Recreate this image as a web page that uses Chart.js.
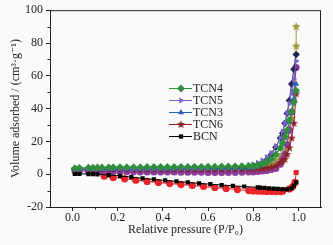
<!DOCTYPE html>
<html>
<head>
<meta charset="utf-8">
<script src="https://cdn.jsdelivr.net/npm/chart.js@4/dist/chart.umd.min.js"></script>
<style>
  html, body { margin: 0; padding: 0; background: #fafafa; }
  #wrap { width: 333px; height: 245px; }
</style>
</head>
<body>
<div id="wrap"><canvas id="isoChart" width="333" height="245"></canvas></div>
<script>
// relative pressure P/P0 for the TCN curves
const pTcn = [0.01, 0.03, 0.07, 0.09, 0.11, 0.13, 0.16, 0.18, 0.21, 0.24, 0.27, 0.30, 0.33, 0.36,
  0.39, 0.42, 0.45, 0.48, 0.51, 0.54, 0.57, 0.60, 0.63, 0.66, 0.69, 0.72, 0.75, 0.78, 0.80, 0.82,
  0.84, 0.86, 0.88, 0.90, 0.92, 0.93, 0.94, 0.95, 0.96, 0.97, 0.98, 0.99];
const tcn4 = [3.6, 3.8, 4.0, 4.0, 4.1, 4.1, 4.2, 4.2, 4.3, 4.3, 4.3, 4.3, 4.4, 4.4, 4.4, 4.4, 4.4,
  4.5, 4.5, 4.5, 4.5, 4.6, 4.6, 4.7, 4.7, 4.8, 4.9, 5.0, 5.0, 5.5, 6.3, 7.5, 9.5, 12, 16, 19, 23,
  27, 33, 38, 44, 51];
const tcn5 = [3.0, 3.2, 3.3, 3.3, 3.4, 3.4, 3.4, 3.5, 3.5, 3.5, 3.5, 3.6, 3.6, 3.6, 3.6, 3.7, 3.7,
  3.7, 3.8, 3.8, 3.9, 4.0, 4.1, 4.2, 4.4, 4.6, 5.0, 5.4, 6.0, 7.0, 8.5, 10.5, 13, 17, 22, 26, 31,
  37, 43, 50, 58, 69];
const tcn3 = [2.8, 3.0, 3.0, 3.1, 3.1, 3.1, 3.2, 3.2, 3.2, 3.2, 3.2, 3.2, 3.3, 3.3, 3.3, 3.3, 3.3,
  3.3, 3.4, 3.4, 3.4, 3.4, 3.5, 3.5, 3.5, 3.6, 3.7, 3.8, 4.0, 4.5, 5.5, 7.0, 9.0, 12.5, 16, 19, 22,
  26, 32, 38, 46, 55];
const tcn6 = [3.2, 3.3, 3.3, 3.3, 3.3, 3.3, 3.3, 3.3, 3.3, 3.3, 3.3, 3.2, 3.2, 3.2, 3.2, 3.2, 3.2,
  3.2, 3.2, 3.2, 3.1, 3.1, 3.1, 3.1, 3.1, 3.1, 3.1, 3.2, 3.2, 3.3, 3.5, 3.8, 4.3, 5.5, 7.0, 8.0,
  9.0, 12, 16, 22, 31, 49];
// unlabeled desorption branches
const tcnNavy = [3.3, 3.4, 3.4, 3.4, 3.4, 3.4, 3.4, 3.4, 3.4, 3.4, 3.4, 3.4, 3.4, 3.4, 3.4, 3.4,
  3.4, 3.4, 3.4, 3.4, 3.4, 3.5, 3.5, 3.5, 3.6, 3.7, 3.8, 4.0, 4.3, 5.0, 6.5, 8.5, 12, 16.5, 22, 25,
  31, 37, 45, 55, 64, 73];
const tcnMagenta = [2.2, 2.0, 1.8, 1.8, 1.7, 1.7, 1.6, 1.6, 1.5, 1.5, 1.5, 1.4, 1.4, 1.4, 1.3, 1.3,
  1.3, 1.2, 1.2, 1.2, 1.2, 1.1, 1.1, 1.1, 1.1, 1.1, 1.2, 1.3, 1.4, 1.6, 1.9, 2.3, 2.8, 3.5, 6.0,
  9.0, 12, 18, 27, 38, 50, 65];
const pOlive = [0.01, 0.03, 0.07, 0.09, 0.11, 0.13, 0.16, 0.18, 0.21, 0.24, 0.27, 0.30, 0.33, 0.36,
  0.39, 0.42, 0.45, 0.48, 0.51, 0.54, 0.57, 0.60, 0.63, 0.66, 0.69, 0.72, 0.75, 0.78, 0.80, 0.82,
  0.84, 0.86, 0.88, 0.90, 0.92, 0.93, 0.94, 0.95, 0.96, 0.97, 0.98, 0.99, 0.99];
const tcnOlive = [2.4, 2.3, 2.2, 2.2, 2.2, 2.1, 2.1, 2.1, 2.1, 2.0, 2.0, 2.0, 2.0, 2.0, 2.0, 2.0,
  2.0, 2.0, 2.0, 2.0, 2.0, 2.0, 2.0, 2.0, 2.1, 2.1, 2.2, 2.4, 2.6, 3.0, 3.8, 5.0, 6.5, 8.5, 10.5,
  12, 14, 19, 26, 34, 44, 78, 90];

// BCN: adsorption (black) and desorption (red)
const pBcn = [0.01, 0.03, 0.07, 0.09, 0.11, 0.16, 0.21, 0.26, 0.31, 0.36, 0.41, 0.46, 0.51, 0.56,
  0.61, 0.66, 0.71, 0.76, 0.82, 0.83, 0.85, 0.87, 0.89, 0.91, 0.93, 0.95, 0.97, 0.98, 0.99];
const bcn = [0.2, 0.2, 0.1, 0.0, -0.1, -0.5, -1.0, -1.8, -2.5, -3.2, -3.8, -4.4, -5.0, -5.6, -6.1,
  -6.6, -7.1, -7.5, -8.0, -8.2, -8.4, -8.6, -8.8, -9.0, -9.1, -9.2, -8.6, -7.0, -5.0];
const pBcnDes = [0.14, 0.18, 0.23, 0.28, 0.33, 0.38, 0.43, 0.48, 0.53, 0.58, 0.63, 0.68, 0.73,
  0.78, 0.80, 0.82, 0.84, 0.86, 0.88, 0.90, 0.92, 0.93, 0.96, 0.975, 0.985, 0.99];
const bcnDes = [-1.2, -2.0, -2.8, -3.7, -4.4, -5.1, -5.7, -6.3, -6.9, -7.5, -8.1, -8.7, -9.4, -10.0,
  -10.2, -10.3, -10.4, -10.5, -10.5, -10.6, -10.6, -10.4, -9.0, -7.5, -5.0, 1.0];

const xTicks = [0.0, 0.2, 0.4, 0.6, 0.8, 1.0];
const yTicks = [-20, 0, 20, 40, 60, 80, 100];

const serif = "'Liberation Serif', 'DejaVu Serif', serif";

// filled five point star used as marker
function makeStar(color, r) {
  const c = document.createElement('canvas');
  const s = Math.ceil(r * 2 + 2);
  c.width = s; c.height = s;
  const g = c.getContext('2d');
  g.fillStyle = color;
  g.beginPath();
  for (let i = 0; i < 10; i++) {
    const rr = i % 2 === 0 ? r : r * 0.45;
    const a = -Math.PI / 2 + i * Math.PI / 5;
    g.lineTo(s / 2 + rr * Math.cos(a), s / 2 + rr * Math.sin(a));
  }
  g.closePath();
  g.fill();
  return c;
}

const zip = (xs, ys) => ys.map((y, i) => ({ x: xs[i], y }));

function series(label, xs, ys, color, style, extra) {
  return Object.assign({
    label,
    data: zip(xs, ys),
    borderColor: color,
    backgroundColor: color,
    borderWidth: 1,
    pointStyle: style,
    pointRadius: 3.5,
    pointBorderWidth: 0,
    pointHoverRadius: 3.5,
    showLine: true,
    tension: 0,
  }, extra || {});
}

const datasets = [
  series('TCN4', pTcn, tcn4, '#2f8f3a', 'rectRot', { pointRadius: 3.9 }),
  series('TCN5', pTcn, tcn5, '#7b62c8', 'triangle', { pointRotation: 90 }),
  series('TCN3', pTcn, tcn3, '#2e62b8', 'triangle'),
  series('TCN6', pTcn, tcn6, '#8b2323', makeStar('#8b2323', 4.3)),
  series('BCN', pBcn, bcn, '#000000', 'rect', { pointRadius: 3 }),
  series('', pTcn, tcnNavy, '#1c2552', 'rectRot', { pointRadius: 3.7 }),
  series('', pTcn, tcnMagenta, '#8c3c9c', 'circle'),
  series('', pOlive, tcnOlive, '#9c9a3c', makeStar('#9c9a3c', 4.5)),
  series('', pBcnDes, bcnDes, '#e8262a', 'circle', {
    pointRadius: 3.6,
    pointStyle: pBcnDes.map((v, i) => (i === pBcnDes.length - 1 ? 'rect' : 'circle')),
  }),
];

const background = {
  id: 'background',
  beforeDraw(chart) {
    const { ctx } = chart;
    ctx.save();
    ctx.fillStyle = '#fafafa';
    ctx.fillRect(0, 0, chart.width, chart.height);
    ctx.restore();
  },
};

// frame, minor ticks and the hand placed legend
const frameAndLegend = {
  id: 'frameAndLegend',
  afterDraw(chart) {
    const { ctx, chartArea: a, scales } = chart;
    ctx.save();
    ctx.strokeStyle = '#222';
    ctx.lineWidth = 1;
    ctx.strokeRect(a.left + 0.5, a.top + 0.5, a.right - a.left - 1, a.bottom - a.top);
    ctx.beginPath();
    [0.1, 0.3, 0.5, 0.7, 0.9].forEach((v) => {
      const x = Math.round(scales.x.getPixelForValue(v)) + 0.5;
      ctx.moveTo(x, a.bottom);
      ctx.lineTo(x, a.bottom + 2.5);
    });
    [-10, 10, 30, 50, 70, 90].forEach((v) => {
      const y = Math.round(scales.y.getPixelForValue(v)) + 0.5;
      ctx.moveTo(a.left, y);
      ctx.lineTo(a.left - 2.5, y);
    });
    ctx.stroke();

    ctx.font = '12px ' + serif;
    ctx.textBaseline = 'middle';
    chart.data.datasets.slice(0, 5).forEach((ds, i) => {
      const y = 88 + i * 12;
      ctx.strokeStyle = ds.borderColor;
      ctx.beginPath();
      ctx.moveTo(169, y + 0.5);
      ctx.lineTo(192, y + 0.5);
      ctx.stroke();
      ctx.fillStyle = ds.backgroundColor;
      if (typeof ds.pointStyle === 'string') {
        Chart.helpers.drawPoint(ctx, {
          pointStyle: ds.pointStyle,
          radius: ds.pointRadius,
          rotation: ds.pointRotation || 0,
          borderWidth: 0,
        }, 181, y + 0.5);
      } else {
        const img = ds.pointStyle;
        ctx.drawImage(img, 181 - img.width / 2, y + 0.5 - img.height / 2);
      }
      ctx.fillStyle = '#222';
      ctx.fillText(ds.label, 193, y + 1);
    });
    ctx.restore();
  },
};

const ctx = document.getElementById('isoChart').getContext('2d');

const chart = new Chart(ctx, {
  type: 'scatter',
  data: { datasets },
  options: {
    responsive: false,
    animation: false,
    layout: { padding: { top: 10, right: 12, left: 0, bottom: 0 } },
    plugins: { legend: { display: false }, tooltip: { enabled: false } },
    scales: {
      x: {
        type: 'linear',
        min: -0.1,
        max: 1.1,
        afterBuildTicks: (scale) => { scale.ticks = xTicks.map((v) => ({ value: v })); },
        afterFit: (scale) => { scale.height = 38; },
        grid: { drawOnChartArea: false, tickLength: 4, color: '#222' },
        border: { color: '#222' },
        ticks: {
          color: '#222',
          padding: 0,
          maxRotation: 0,
          font: { family: serif, size: 12 },
          callback: (v) => Number(v).toFixed(1),
        },
        title: {
          display: true,
          text: 'Relative pressure (P/P₀)',
          color: '#222',
          font: { family: serif, size: 12 },
          padding: { top: 0, bottom: 8 },
        },
      },
      y: {
        type: 'linear',
        min: -20,
        max: 100,
        afterBuildTicks: (scale) => { scale.ticks = yTicks.map((v) => ({ value: v })); },
        afterFit: (scale) => { scale.width = 50; },
        grid: { drawOnChartArea: false, tickLength: 4, color: '#222' },
        border: { color: '#222' },
        ticks: {
          color: '#222',
          padding: 3,
          font: { family: serif, size: 12 },
        },
        title: {
          display: true,
          text: 'Volume adsorbed / (cm³·g⁻¹)',
          color: '#222',
          font: { family: serif, size: 12 },
          padding: { top: 9, bottom: 0 },
        },
      },
    },
  },
  plugins: [background, frameAndLegend],
});
</script>
</body>
</html>
